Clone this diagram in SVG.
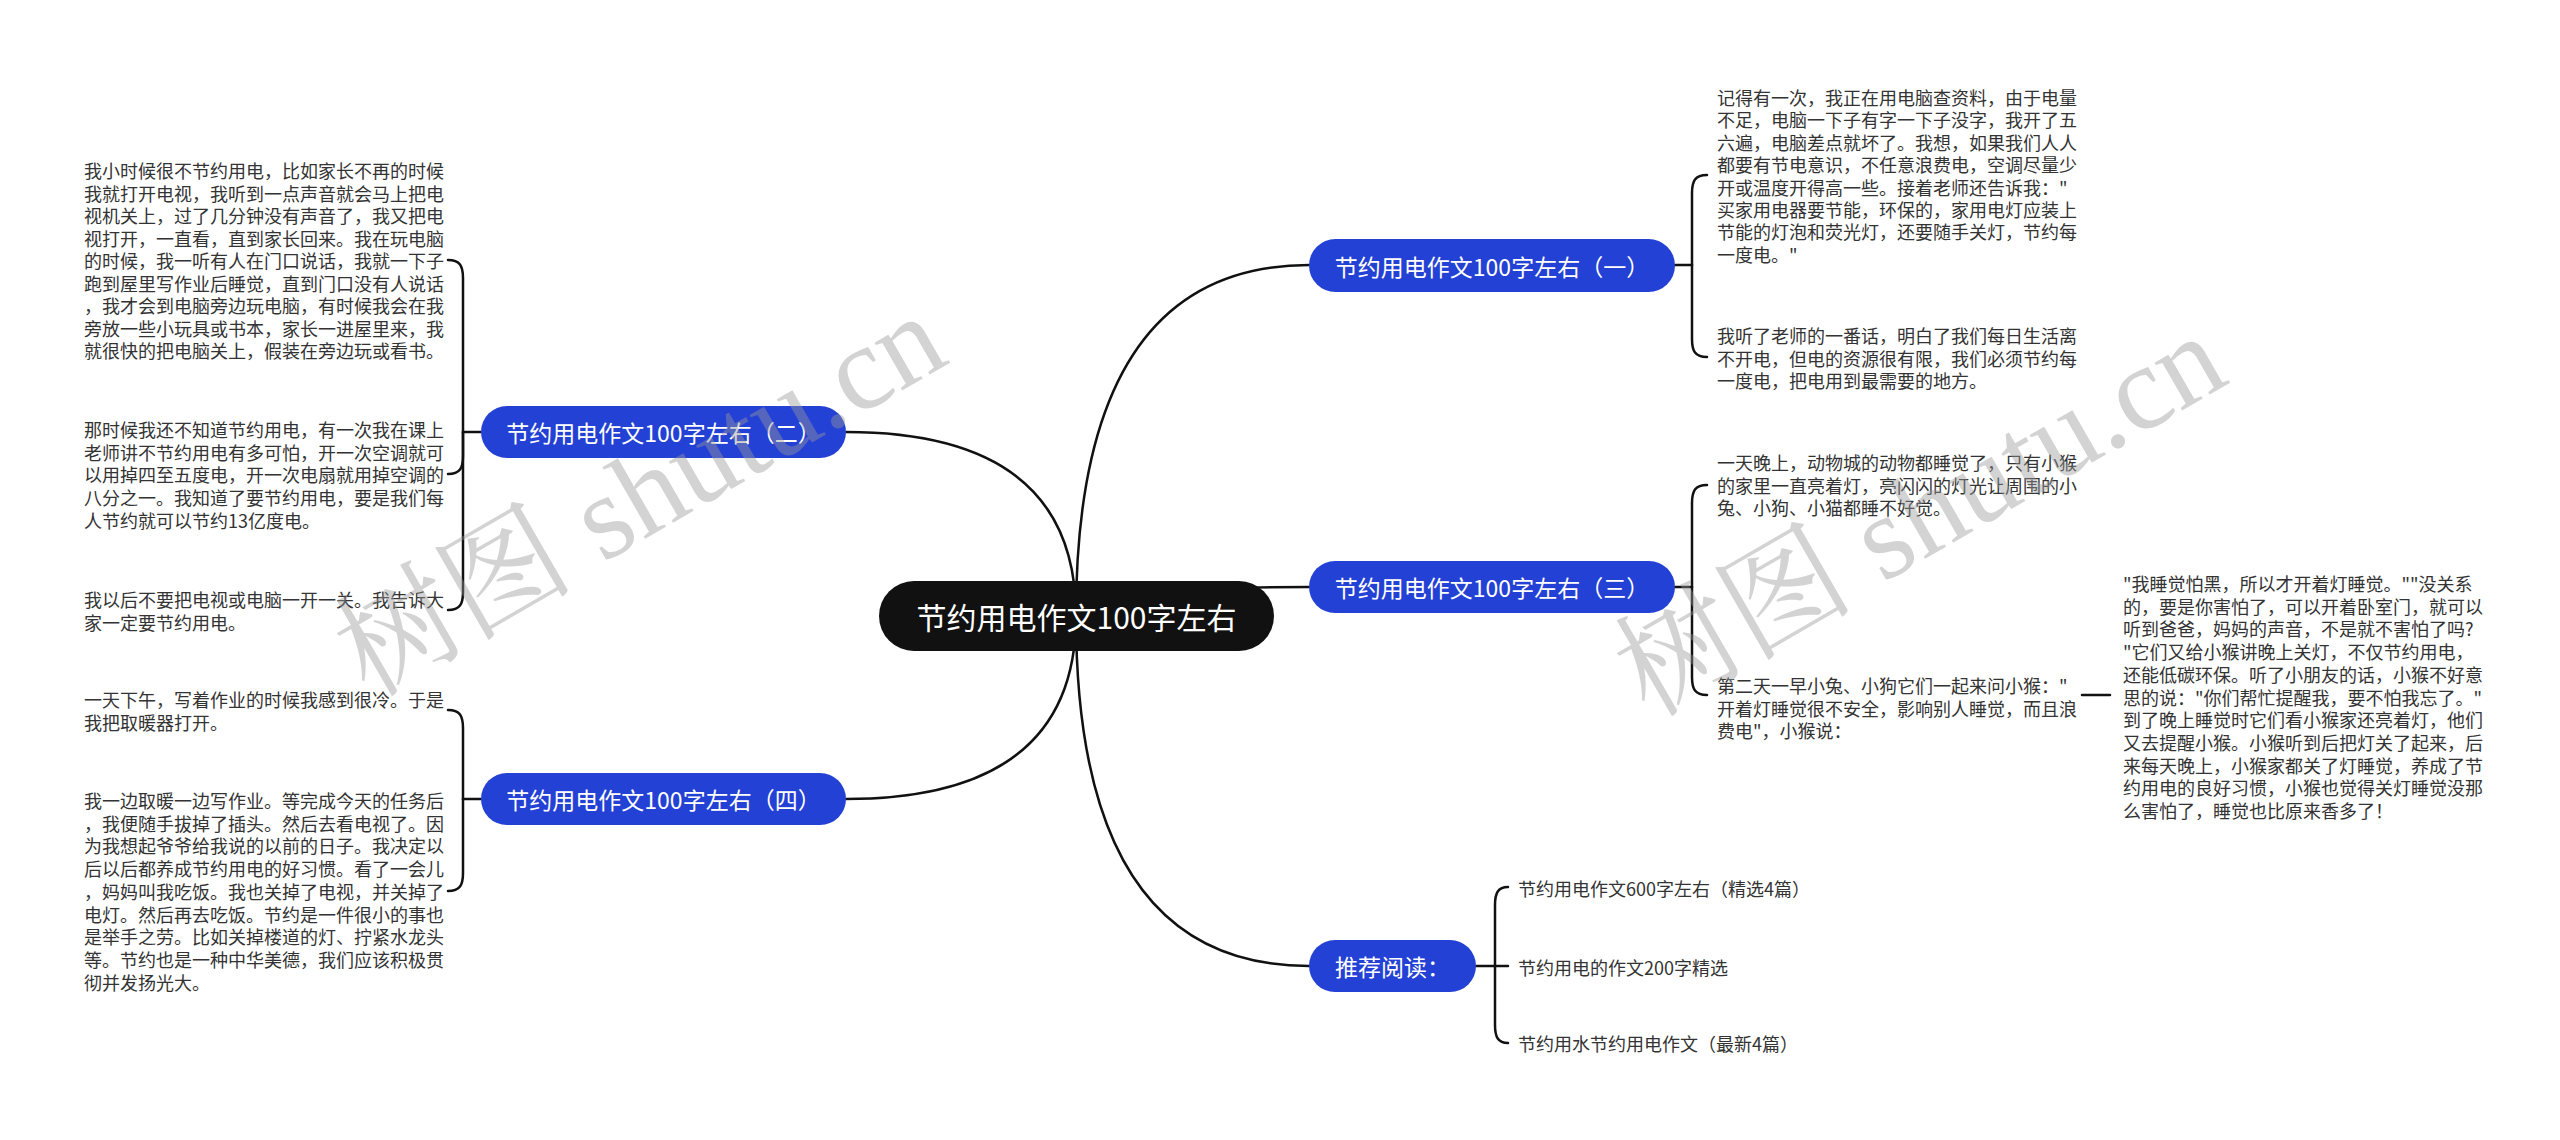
<svg xmlns="http://www.w3.org/2000/svg" width="2560" height="1140" viewBox="0 0 2560 1140">
<style>
.bg{fill:#ffffff}
.ln{fill:none;stroke:#111111;stroke-width:2.5;stroke-linecap:round}
.root{fill:#111111}
.sub{fill:#2441d6}
.rt{font-family:"Noto Sans CJK SC","Noto Sans",sans-serif;font-size:30px;fill:#ffffff;text-anchor:middle;dominant-baseline:central}
.st{font-family:"Noto Sans CJK SC","Noto Sans",sans-serif;font-size:23px;fill:#ffffff;text-anchor:middle;dominant-baseline:central}
.lf{font-family:"Noto Sans CJK SC","Noto Sans",sans-serif;font-size:18px;fill:#333333;dominant-baseline:central}
.wm{font-family:"Liberation Serif","Noto Serif CJK SC","Noto Sans CJK SC",serif;font-size:120px;fill:#999999;opacity:0.42}
</style>
<rect class="bg" x="0" y="0" width="2560" height="1140"/>
<g id="connectors">
<path class="ln" d="M1076 616 Q1076 265 1309 265"/>
<path class="ln" d="M1076 616 Q1076 587 1309 587"/>
<path class="ln" d="M1076 616 Q1076 966 1309 966"/>
<path class="ln" d="M1076 616 Q1076 432 846 432"/>
<path class="ln" d="M1076 616 Q1076 799 846 799"/>
<path class="ln" d="M481 432 H463"/>
<path class="ln" d="M463 432 V278 C463 266 460 260 448 260"/>
<path class="ln" d="M463 432 V456 C463 468 460 474 448 474"/>
<path class="ln" d="M463 432 V592 C463 604 460 610 448 610"/>
<path class="ln" d="M481 799 H463"/>
<path class="ln" d="M463 799 V728 C463 716 460 710 448 710"/>
<path class="ln" d="M463 799 V873 C463 885 460 891 448 891"/>
<path class="ln" d="M1675 265 H1692"/>
<path class="ln" d="M1692 265 V193 C1692 181 1695 175 1707 175"/>
<path class="ln" d="M1692 265 V339 C1692 351 1695 357 1707 357"/>
<path class="ln" d="M1675 587 H1692"/>
<path class="ln" d="M1692 587 V503 C1692 491 1695 485 1707 485"/>
<path class="ln" d="M1692 587 V677 C1692 689 1695 695 1707 695"/>
<path class="ln" d="M2082 695 H2110"/>
<path class="ln" d="M1476 966 H1508"/>
<path class="ln" d="M1495 966 V905 C1495 893 1498 887 1508 887"/>
<path class="ln" d="M1495 966 V1025 C1495 1037 1498 1043 1508 1043"/>
</g>
<g id="root">
<rect class="root" x="879" y="581" width="395" height="70" rx="35"/>
<text class="rt" x="1076.5" y="616">节约用电作文100字左右</text>
</g>
<g id="n1">
<rect class="sub" x="1309" y="239" width="366" height="53" rx="26.5"/>
<text class="st" x="1492" y="265.5">节约用电作文100字左右（一）</text>
</g>
<g id="n2">
<rect class="sub" x="481" y="406" width="365" height="52" rx="26"/>
<text class="st" x="663.5" y="432">节约用电作文100字左右（二）</text>
</g>
<g id="n3">
<rect class="sub" x="1309" y="561" width="366" height="52" rx="26"/>
<text class="st" x="1492" y="587">节约用电作文100字左右（三）</text>
</g>
<g id="n4">
<rect class="sub" x="481" y="773" width="365" height="52" rx="26"/>
<text class="st" x="663.5" y="799">节约用电作文100字左右（四）</text>
</g>
<g id="n5">
<rect class="sub" x="1309" y="940" width="167" height="52" rx="26"/>
<text class="st" x="1392.5" y="966">推荐阅读：</text>
</g>
<g id="t2a">
<text class="lf">
<tspan x="84" y="170">我小时候很不节约用电，比如家长不再的时候</tspan>
<tspan x="84" y="192.5">我就打开电视，我听到一点声音就会马上把电</tspan>
<tspan x="84" y="215">视机关上，过了几分钟没有声音了，我又把电</tspan>
<tspan x="84" y="237.5">视打开，一直看，直到家长回来。我在玩电脑</tspan>
<tspan x="84" y="260">的时候，我一听有人在门口说话，我就一下子</tspan>
<tspan x="84" y="282.5">跑到屋里写作业后睡觉，直到门口没有人说话</tspan>
<tspan x="84" y="305">，我才会到电脑旁边玩电脑，有时候我会在我</tspan>
<tspan x="84" y="327.5">旁放一些小玩具或书本，家长一进屋里来，我</tspan>
<tspan x="84" y="350">就很快的把电脑关上，假装在旁边玩或看书。</tspan>
</text>
</g>
<g id="t2b">
<text class="lf">
<tspan x="84" y="429">那时候我还不知道节约用电，有一次我在课上</tspan>
<tspan x="84" y="451.7">老师讲不节约用电有多可怕，开一次空调就可</tspan>
<tspan x="84" y="474.4">以用掉四至五度电，开一次电扇就用掉空调的</tspan>
<tspan x="84" y="497.1">八分之一。我知道了要节约用电，要是我们每</tspan>
<tspan x="84" y="519.8">人节约就可以节约13亿度电。</tspan>
</text>
</g>
<g id="t2c">
<text class="lf">
<tspan x="84" y="599">我以后不要把电视或电脑一开一关。我告诉大</tspan>
<tspan x="84" y="621.5">家一定要节约用电。</tspan>
</text>
</g>
<g id="t4a">
<text class="lf">
<tspan x="84" y="698.5">一天下午，写着作业的时候我感到很冷。于是</tspan>
<tspan x="84" y="721.5">我把取暖器打开。</tspan>
</text>
</g>
<g id="t4b">
<text class="lf">
<tspan x="84" y="800">我一边取暖一边写作业。等完成今天的任务后</tspan>
<tspan x="84" y="822.7">，我便随手拔掉了插头。然后去看电视了。因</tspan>
<tspan x="84" y="845.4">为我想起爷爷给我说的以前的日子。我决定以</tspan>
<tspan x="84" y="868.1">后以后都养成节约用电的好习惯。看了一会儿</tspan>
<tspan x="84" y="890.8">，妈妈叫我吃饭。我也关掉了电视，并关掉了</tspan>
<tspan x="84" y="913.5">电灯。然后再去吃饭。节约是一件很小的事也</tspan>
<tspan x="84" y="936.2">是举手之劳。比如关掉楼道的灯、拧紧水龙头</tspan>
<tspan x="84" y="958.9">等。节约也是一种中华美德，我们应该积极贯</tspan>
<tspan x="84" y="981.6">彻并发扬光大。</tspan>
</text>
</g>
<g id="t1a">
<text class="lf">
<tspan x="1717" y="97">记得有一次，我正在用电脑查资料，由于电量</tspan>
<tspan x="1717" y="119.4">不足，电脑一下子有字一下子没字，我开了五</tspan>
<tspan x="1717" y="141.8">六遍，电脑差点就坏了。我想，如果我们人人</tspan>
<tspan x="1717" y="164.2">都要有节电意识，不任意浪费电，空调尽量少</tspan>
<tspan x="1717" y="186.6">开或温度开得高一些。接着老师还告诉我："</tspan>
<tspan x="1717" y="209">买家用电器要节能，环保的，家用电灯应装上</tspan>
<tspan x="1717" y="231.4">节能的灯泡和荧光灯，还要随手关灯，节约每</tspan>
<tspan x="1717" y="253.8">一度电。"</tspan>
</text>
</g>
<g id="t1b">
<text class="lf">
<tspan x="1717" y="335">我听了老师的一番话，明白了我们每日生活离</tspan>
<tspan x="1717" y="357.5">不开电，但电的资源很有限，我们必须节约每</tspan>
<tspan x="1717" y="380">一度电，把电用到最需要的地方。</tspan>
</text>
</g>
<g id="t3a">
<text class="lf">
<tspan x="1717" y="462">一天晚上，动物城的动物都睡觉了，只有小猴</tspan>
<tspan x="1717" y="484.5">的家里一直亮着灯，亮闪闪的灯光让周围的小</tspan>
<tspan x="1717" y="507">兔、小狗、小猫都睡不好觉。</tspan>
</text>
</g>
<g id="t3b">
<text class="lf">
<tspan x="1717" y="685">第二天一早小兔、小狗它们一起来问小猴："</tspan>
<tspan x="1717" y="707.5">开着灯睡觉很不安全，影响别人睡觉，而且浪</tspan>
<tspan x="1717" y="730">费电"，小猴说：</tspan>
</text>
</g>
<g id="t3c">
<text class="lf">
<tspan x="2123" y="583">"我睡觉怕黑，所以才开着灯睡觉。""没关系</tspan>
<tspan x="2123" y="605.7">的，要是你害怕了，可以开着卧室门，就可以</tspan>
<tspan x="2123" y="628.4">听到爸爸，妈妈的声音，不是就不害怕了吗?</tspan>
<tspan x="2123" y="651.1">"它们又给小猴讲晚上关灯，不仅节约用电，</tspan>
<tspan x="2123" y="673.8">还能低碳环保。听了小朋友的话，小猴不好意</tspan>
<tspan x="2123" y="696.5">思的说："你们帮忙提醒我，要不怕我忘了。"</tspan>
<tspan x="2123" y="719.2">到了晚上睡觉时它们看小猴家还亮着灯，他们</tspan>
<tspan x="2123" y="741.9">又去提醒小猴。小猴听到后把灯关了起来，后</tspan>
<tspan x="2123" y="764.6">来每天晚上，小猴家都关了灯睡觉，养成了节</tspan>
<tspan x="2123" y="787.3">约用电的良好习惯，小猴也觉得关灯睡觉没那</tspan>
<tspan x="2123" y="810">么害怕了，睡觉也比原来香多了！</tspan>
</text>
</g>
<g id="r1"><text class="lf" x="1518" y="887.5">节约用电作文600字左右（精选4篇）</text></g>
<g id="r2"><text class="lf" x="1518" y="967">节约用电的作文200字精选</text></g>
<g id="r3"><text class="lf" x="1518" y="1043">节约用水节约用电作文（最新4篇）</text></g>
<g id="watermarks">
<text class="wm" text-anchor="middle" dominant-baseline="central" transform="translate(640,495) rotate(-30)">树图 shutu.cn</text>
<text class="wm" text-anchor="middle" dominant-baseline="central" transform="translate(1920,515) rotate(-30)">树图 shutu.cn</text>
</g>
</svg>
